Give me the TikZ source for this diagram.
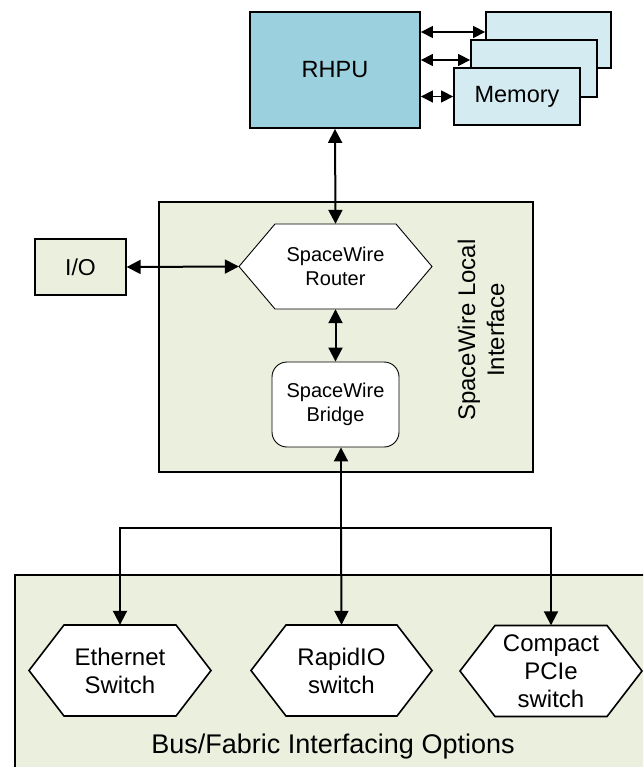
\documentclass[tikz,border=0pt]{standalone}
\usepackage{fontspec}
\setmainfont{Liberation Sans}
\usetikzlibrary{arrows.meta,calc}
\definecolor{rhpublue}{RGB}{155,208,222}
\definecolor{memblue}{RGB}{211,235,241}
\definecolor{olivebg}{RGB}{235,239,222}
\newcommand{\fsz}[2]{\fontsize{#1}{#2}\selectfont}
% name, cx, cy, width, height, slant, line width, text, font
\newcommand{\drawhex}[9]{%
  \draw[line width=#7, fill=white, line join=miter]
    ({#2-#4/2},#3) -- ({#2-#4/2+#6},{#3-#5/2}) -- ({#2+#4/2-#6},{#3-#5/2})
    -- ({#2+#4/2},#3) -- ({#2+#4/2-#6},{#3+#5/2}) -- ({#2-#4/2+#6},{#3+#5/2}) -- cycle;
  \node[hexnode, font=#9, minimum width=#4pt, minimum height=#5pt] (#1) at (#2,#3) {#8};}
\begin{document}
\begin{tikzpicture}[x=1pt,y=-1pt,
  box/.style={draw=black, line width=1.8pt, inner sep=0pt},
  hexnode/.style={inner sep=0pt, align=center},
  biarr/.style={line width=2pt, {Triangle[length=14pt,width=14pt]}-{Triangle[length=14pt,width=14pt]}},
  memarr/.style={line width=1.4pt, {Triangle[length=12pt,width=12pt]}-{Triangle[length=12pt,width=12pt]}},
  onearr/.style={line width=2pt, -{Triangle[length=14pt,width=14pt]}},
  plain/.style={line width=2pt}
]
\clip (0,0) rectangle (643,767);
\fill[white] (0,0) rectangle (643,767);

% containers
\node[box, fill=olivebg, anchor=north west, minimum width=660pt, minimum height=220pt] (bus) at (14,574) {};
\node[font=\fsz{27}{32}] (bustext) at (333,747) {Bus/Fabric Interfacing Options};

\node[box, fill=olivebg, minimum width=374pt, minimum height=270pt] (local) at (346,337) {};
\node[font=\fsz{24}{29}, rotate=90, align=center] (localtext) at (481,330) {SpaceWire Local\\Interface};

% RHPU and memory
\node[box, fill=rhpublue, minimum width=170pt, minimum height=116pt, font=\fsz{23.5}{28}] (rhpu) at (335,70) {RHPU};
\node[box, fill=memblue, minimum width=125pt, minimum height=56pt] (mem1) at (548.5,40) {};
\node[box, fill=memblue, minimum width=126pt, minimum height=57pt] (mem2) at (534,68.5) {};
\node[box, fill=memblue, minimum width=126pt, minimum height=57pt, font=\fsz{23.5}{28}] (mem3) at (517,96.5) {Memory};

% I/O
\node[box, line width=1.3pt, fill=olivebg, minimum width=91pt, minimum height=56pt, font=\fsz{23}{28}] (io) at (80.5,267) {I/O};

% router, bridge
\drawhex{router}{335.5}{266.5}{193}{85}{36}{0.9pt}{SpaceWire\\Router}{\fsz{20}{24}}
\node[draw, line width=0.9pt, fill=white, rounded corners=15pt, minimum width=127pt, minimum height=85pt, align=center, font=\fsz{20}{24}] (bridge) at (335.5,404.5) {SpaceWire\\Bridge};

% bottom switches
\drawhex{eth}{120}{670.5}{182}{91}{35}{1.6pt}{Ethernet\\Switch}{\fsz{24}{28}}
\drawhex{rio}{341.5}{670.5}{181}{91}{35}{1.6pt}{RapidIO\\switch}{\fsz{24}{28}}
\drawhex{cpci}{551}{671}{182}{91}{35}{1.6pt}{Compact\\PCIe\\switch}{\fsz{24}{28}}

% connectors
\coordinate (m1a) at ([yshift=8pt]mem1.west);
\coordinate (m2a) at ([yshift=8.5pt]mem2.west);
\draw[memarr] (rhpu.east |- m1a) -- (m1a);
\draw[memarr] (rhpu.east |- m2a) -- (m2a);
\draw[memarr] (rhpu.east |- mem3.west) -- (mem3.west);

\draw[biarr] (rhpu.south) -- (router.north);
\draw[biarr] (io.east) -- (router.west);
\draw[biarr] (router.south) -- (bridge.north);

\coordinate (split) at (341,528);
\draw[plain, {Triangle[length=14pt,width=14pt]}-] (bridge.south -| split) -- (split);
\draw[onearr] (split) -| (eth.north);
\draw[onearr] (split) -| (cpci.north);
\draw[onearr] (split) -- (rio.north);
\end{tikzpicture}
\end{document}
